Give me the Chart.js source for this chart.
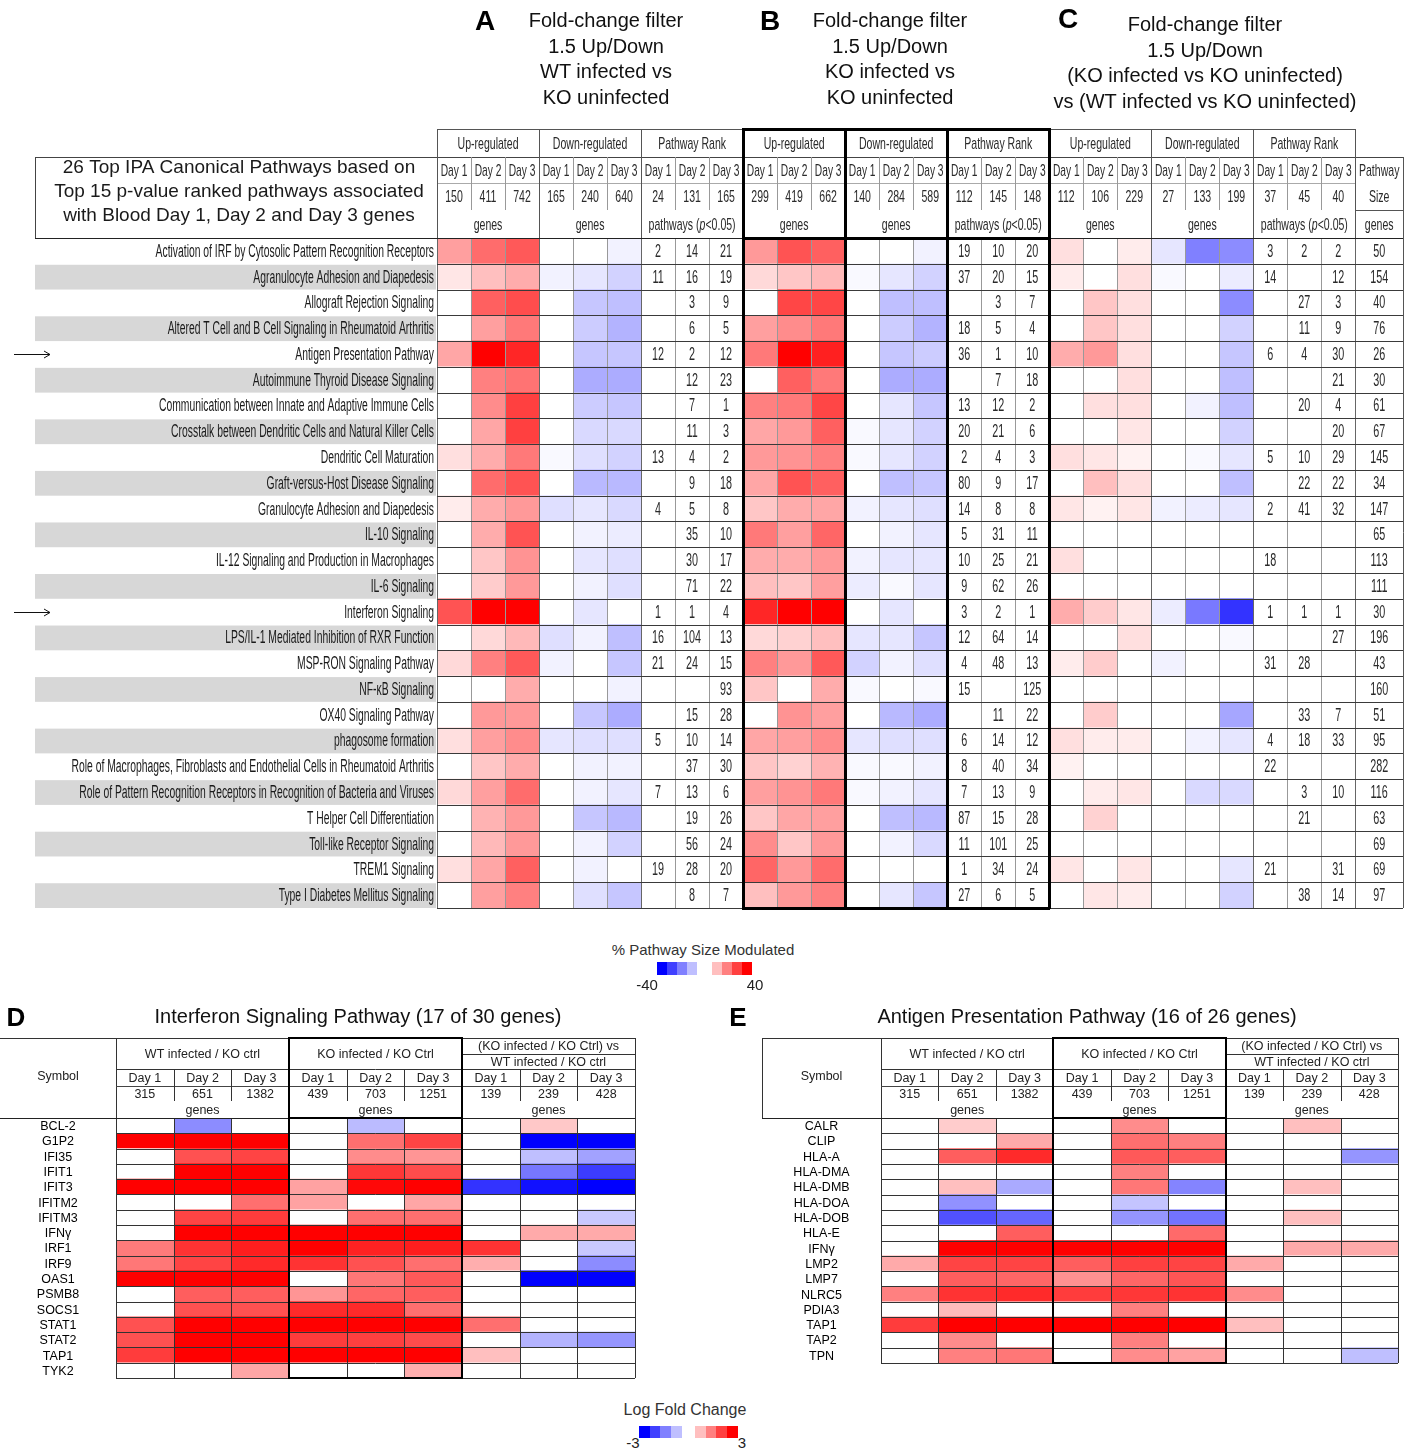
<!DOCTYPE html>
<html><head><meta charset="utf-8">
<script src="https://cdn.jsdelivr.net/npm/chart.js@4.4.1/dist/chart.umd.min.js"></script>
<style>
html,body{margin:0;padding:0;background:#fff;}
#page{position:relative;width:1414px;height:1449px;overflow:hidden;font-family:"Liberation Sans",Arial,sans-serif;color:#111;}
.t{position:absolute;white-space:nowrap;text-align:center;}
.sw{position:absolute;}
canvas{position:absolute;}
</style></head><body><div id="page">
<canvas id="ipa" width="1414" height="915" style="left:0;top:0"></canvas>
<canvas id="ifn" width="645" height="385" style="left:0;top:1000px"></canvas>
<canvas id="apc" width="674" height="375" style="left:740px;top:1000px"></canvas>
</div>
<script>
// ---------- Canonical pathways (panels A, B, C) ----------
const pathways = [
  "Activation of IRF by Cytosolic Pattern Recognition Receptors",
  "Agranulocyte Adhesion and Diapedesis",
  "Allograft Rejection Signaling",
  "Altered T Cell and B Cell Signaling in Rheumatoid Arthritis",
  "Antigen Presentation Pathway",
  "Autoimmune Thyroid Disease Signaling",
  "Communication between Innate and Adaptive Immune Cells",
  "Crosstalk between Dendritic Cells and Natural Killer Cells",
  "Dendritic Cell Maturation",
  "Graft-versus-Host Disease Signaling",
  "Granulocyte Adhesion and Diapedesis",
  "IL-10 Signaling",
  "IL-12 Signaling and Production in Macrophages",
  "IL-6 Signaling",
  "Interferon Signaling",
  "LPS/IL-1 Mediated Inhibition of RXR Function",
  "MSP-RON Signaling Pathway",
  "NF-\u03baB Signaling",
  "OX40 Signaling Pathway",
  "phagosome formation",
  "Role of Macrophages, Fibroblasts and Endothelial Cells in Rheumatoid Arthritis",
  "Role of Pattern Recognition Receptors in Recognition of Bacteria and Viruses",
  "T Helper Cell Differentiation",
  "Toll-like Receptor Signaling",
  "TREM1 Signaling",
  "Type I Diabetes Mellitus Signaling"
];
const markedPathways = ["Antigen Presentation Pathway", "Interferon Signaling"];
const dayLabels = ["Day 1", "Day 2", "Day 3"];

// % of pathway size modulated, Day 1..3 (down-regulated stored as negatives)
const aUp = [[15,23,26],[4,10,13],[0,25,28],[0,15,21],[14,40,34],[0,20,22],[0,18,30],[0,14,30],[5,13,21],[0,23,27],[3,13,16],[0,13,27],[0,9,17],[0,8,16],[27,40,40],[0,6,11],[6,20,26],[0,0,13],[0,16,16],[5,15,18],[0,9,13],[6,15,23],[0,12,16],[0,11,16],[5,14,25],[0,15,20]];
const aDown = [[0,0,-2],[-2,-4,-7],[0,-9,-10],[0,-8,-12],[0,-9,-9],[0,-13,-13],[0,-8,-9],[0,-6,-6],[-1,-5,-7],[0,-11,-11],[-5,-4,-6],[0,-2,-3],[0,-4,-5],[0,-2,-5],[0,-4,0],[-5,-2,-10],[-2,0,-9],[0,0,-2],[0,-9,-13],[-4,-5,-5],[0,-2,-2],[0,-2,-4],[0,-9,-11],[0,-2,-7],[0,-2,0],[0,-5,-9]];
const aRank = [[2,14,21],[11,16,19],[null,3,9],[null,6,5],[12,2,12],[null,12,23],[null,7,1],[null,11,3],[13,4,2],[null,9,18],[4,5,8],[null,35,10],[null,30,17],[null,71,22],[1,1,4],[16,104,13],[21,24,15],[null,null,93],[null,15,28],[5,10,14],[null,37,30],[7,13,6],[null,19,26],[null,56,24],[19,28,20],[null,8,7]];

const bUp = [[16,27,25],[6,9,11],[0,29,29],[15,18,21],[21,40,35],[0,25,21],[20,21,29],[14,16,25],[16,17,20],[14,27,25],[9,13,14],[21,15,24],[13,13,16],[10,9,15],[34,40,40],[6,7,10],[20,16,26],[9,0,13],[0,17,15],[14,15,18],[9,7,12],[15,17,21],[9,14,15],[18,9,16],[24,16,23],[10,16,20]];
const bDown = [[0,0,-2],[-1,-4,-7],[0,-10,-10],[0,-8,-12],[0,-9,-8],[0,-13,-13],[0,-4,-9],[-1,-4,-7],[-1,-4,-7],[0,-10,-9],[-2,-4,-5],[0,-2,-4],[-2,-4,-4],[-3,-1,-4],[0,-4,0],[-4,-4,-9],[-7,-2,-5],[-1,0,-1],[0,-11,-13],[-4,-5,-5],[-1,-1,-2],[-1,-2,-4],[0,-10,-11],[0,-2,-6],[0,0,0],[0,-4,-9]];
const bRank = [[19,10,20],[37,20,15],[null,3,7],[18,5,4],[36,1,10],[null,7,18],[13,12,2],[20,21,6],[2,4,3],[80,9,17],[14,8,8],[5,31,11],[10,25,21],[9,62,26],[3,2,1],[12,64,14],[4,48,13],[15,null,125],[null,11,22],[6,14,12],[8,40,34],[7,13,9],[87,15,28],[11,101,25],[1,34,24],[27,6,5]];

const cUp = [[5,0,3],[3,0,5],[0,9,5],[0,9,5],[13,16,5],[0,0,5],[0,5,5],[0,0,4],[5,4,2],[0,10,5],[4,2,4],[0,0,0],[5,0,0],[0,0,0],[13,8,4],[0,0,5],[3,8,0],[0,0,0],[0,8,0],[5,3,3],[2,0,0],[0,3,4],[0,7,0],[0,0,0],[4,0,4],[0,4,3]];
const cDown = [[-4,-20,-18],[-1,0,-3],[0,0,-18],[0,0,-7],[0,0,-9],[0,0,-10],[0,-2,-10],[0,0,-7],[0,-1,-4],[0,0,-10],[-2,-3,-4],[0,0,0],[0,0,0],[0,0,0],[-3,-21,-32],[0,0,-1],[-2,0,0],[0,0,0],[0,0,-14],[0,-2,-4],[0,0,0],[0,-6,-6],[0,0,0],[0,0,0],[0,0,-4],[0,0,-7]];
const cRank = [[3,2,2],[14,null,12],[null,27,3],[null,11,9],[6,4,30],[null,null,21],[null,20,4],[null,null,20],[5,10,29],[null,22,22],[2,41,32],[null,null,null],[18,null,null],[null,null,null],[1,1,1],[null,null,27],[31,28,null],[null,null,null],[null,33,7],[4,18,33],[22,null,null],[null,3,10],[null,21,null],[null,null,null],[21,null,31],[null,38,14]];

const pathwaySize = [50,154,40,76,26,30,61,67,145,34,147,65,113,111,30,196,43,160,51,95,282,116,63,69,69,97];

// genes / pathways counted per column: [up, down, rank]
const countsA = [[150,411,742],[165,240,640],[24,131,165]];
const countsB = [[299,419,662],[140,284,589],[112,145,148]];
const countsC = [[112,106,229],[27,133,199],[37,45,40]];
const groupNames = ["Up-regulated", "Down-regulated", "Pathway Rank"];

// ---------- Gene-level panels (D, E): log fold change ----------
const ifnGenes = ["BCL-2","G1P2","IFI35","IFIT1","IFIT3","IFITM2","IFITM3","IFN\u03b3","IRF1","IRF9","OAS1","PSMB8","SOCS1","STAT1","STAT2","TAP1","TYK2"];
const ifnWT = [[0,-1.35,0],[3,3,3],[0,2.05,2.2],[0,3,3],[3,3,3],[0,0,1.7],[0,2.2,2.3],[0,3,3],[1.55,2.4,2.65],[1.6,2.2,2.5],[3,3,3],[0,1.9,1.9],[0,2.05,2.05],[2.05,3,3],[2.05,3,3],[2.3,3,3],[0,0,1.05]];
const ifnKO = [[0,-0.8,0],[0,1.7,2.2],[0,1.35,1.25],[0,2.35,2.1],[1.1,2.9,3],[1.1,0,1.05],[0,1.7,1.7],[3,3,3],[3,2.6,2.65],[2.4,2.05,1.7],[0,1.6,1.95],[1.25,1.8,1.9],[2.5,2.5,1.7],[3,3,3],[2.3,2.25,2.1],[3,3,3],[0,0,0.95]];
const ifnCmp = [[0,0.65,0],[0,-3,-3],[0,-0.75,-1.1],[0,-1.6,-2.3],[-2.4,-2.8,-3],[0,0,0],[0,0,-0.65],[0,1,1],[2.4,0,-0.65],[0.95,0,-1.35],[0,-3,-3],[0,0,0],[0,0,0],[1.7,0,0],[0,-0.9,-1.25],[0.75,0,0],[0,0,0]];

const apcGenes = ["CALR","CLIP","HLA-A","HLA-DMA","HLA-DMB","HLA-DOA","HLA-DOB","HLA-E","IFN\u03b3","LMP2","LMP7","NLRC5","PDIA3","TAP1","TAP2","TPN"];
const apcWT = [[0,0.6,0],[0,0,1],[0,1.9,2.5],[0,0,0],[0,0.75,-1],[0,-1.3,0],[0,-2.05,-1.8],[0,0,1.9],[0,3,3],[1,2.2,2.2],[0,1.9,1.8],[1.5,2.4,2.5],[0,0.8,0],[2.3,3,3],[0,1.35,0],[0,1.5,1.6]];
const apcKO = [[0,1.35,0],[0,1.7,1.5],[0,1.95,1.9],[0,1.5,0],[0,1.6,-1.45],[0,-0.7,0],[0,-1.25,-1.65],[0,0,1.75],[3,3,3],[1.9,2.25,2.2],[1.3,1.8,2.0],[2.3,2.35,2.4],[0,1.5,0],[3,3,3],[0,1.5,0],[0,1.35,1.1]];
const apcCmp = [[0,0.75,0],[0,0,0],[0,0,-1.25],[0,0,0],[0,0.75,0],[0,0,0],[0,0.75,0],[0,0,0],[0,1,1],[1,0,0],[0,0,0],[1.35,0,0],[0,0,0],[0.75,0,0],[0,0,0],[0,0,-0.75]];

const geneCounts = [[315,651,1382],[439,703,1251],[139,239,428]];
const geneGroups = ["WT infected / KO ctrl", "KO infected / KO Ctrl", ["(KO infected / KO Ctrl) vs", "WT infected / KO ctrl"]];

const pctLegendSteps = [-40,-30,-20,-10,10,20,30,40];
const lfcLegendSteps = [-3,-2.25,-1.5,-0.75,0.75,1.5,2.25,3];

// ---------- helpers ----------
const FONT = '"Liberation Sans", Arial, sans-serif';
function heat(v, max) {
  const t = Math.min(Math.abs(v) / max, 1);
  const c = Math.round(255 * (1 - t));
  return v >= 0 ? `rgb(255,${c},${c})` : `rgb(${c},${c},255)`;
}
// horizontally condensed text
function ntext(ctx, s, x, y, size, sx, align, color, style) {
  ctx.save();
  ctx.font = (style || '') + ' ' + size + 'px ' + FONT;
  ctx.fillStyle = color || '#2a2a2a';
  ctx.textBaseline = 'middle';
  ctx.textAlign = 'left';
  const w = ctx.measureText(s).width * sx;
  const left = align === 'right' ? x - w : align === 'left' ? x : x - w / 2;
  ctx.translate(left, y);
  ctx.scale(sx, 1);
  ctx.fillText(s, 0, 0);
  ctx.restore();
  return w;
}
function runs(ctx, parts, cx, y, size, sx, color) {
  ctx.save();
  let total = 0;
  parts.forEach(p => { ctx.font = (p.st || '') + ' ' + size + 'px ' + FONT; p.w = ctx.measureText(p.t).width * sx; total += p.w; });
  ctx.restore();
  let x = cx - total / 2;
  parts.forEach(p => { ntext(ctx, p.t, x, y, size, sx, 'left', color, p.st); x += p.w; });
}
function crisp(v, w) { return w % 2 ? Math.round(v) + 0.5 : Math.round(v); }
function hline(ctx, x0, x1, y, w, c) {
  ctx.save(); ctx.strokeStyle = c; ctx.lineWidth = w; ctx.beginPath();
  const yy = crisp(y, w); ctx.moveTo(Math.round(x0), yy); ctx.lineTo(Math.round(x1), yy); ctx.stroke(); ctx.restore();
}
function vline(ctx, x, y0, y1, w, c) {
  ctx.save(); ctx.strokeStyle = c; ctx.lineWidth = w; ctx.beginPath();
  const xx = crisp(x, w); ctx.moveTo(xx, Math.round(y0)); ctx.lineTo(xx, Math.round(y1)); ctx.stroke(); ctx.restore();
}
const page = document.getElementById('page');
function put(text, cx, cy, size, weight, color) {
  const d = document.createElement('div');
  d.className = 't';
  d.textContent = text;
  d.style.cssText = `left:${cx - 400}px;width:800px;top:${cy - size}px;height:${size * 2}px;line-height:${size * 2}px;font-size:${size}px;font-weight:${weight || 400};color:${color || '#111'}`;
  page.appendChild(d);
}

Chart.defaults.font.family = FONT;

// ---------- Panels A-C heatmap ----------
const panels = [
  { up: aUp, down: aDown, rank: aRank, counts: countsA },
  { up: bUp, down: bDown, rank: bRank, counts: countsB },
  { up: cUp, down: cDown, rank: cRank, counts: countsC }
];
const SIZE_END = 28.4; // 27 day columns + wider pathway-size column

const ipaDatasets = [];
panels.forEach((p, pi) => {
  [p.up, p.down].forEach((vals, gi) => {
    for (let d = 0; d < 3; d++) {
      const col = pi * 9 + gi * 3 + d;
      ipaDatasets.push({
        data: vals.map(() => [col, col + 1]),
        backgroundColor: vals.map(r => heat(r[d], 40)),
        borderWidth: 0, barPercentage: 1, categoryPercentage: 1, grouped: false
      });
    }
  });
});

const ipaTable = {
  id: 'ipaTable',
  beforeDatasetsDraw(chart) {
    const { ctx, chartArea: a, scales: { y } } = chart;
    const band = y.getPixelForValue(1) - y.getPixelForValue(0);
    pathways.forEach((name, i) => {
      const cy = y.getPixelForValue(i);
      if (i % 2 === 1) { ctx.fillStyle = '#d7d7d7'; ctx.fillRect(35, cy - band / 2 + 1, a.left - 36, band - 1); }
      ntext(ctx, name, a.left - 3, cy + 1, 18, 0.575, 'right', '#1a1a1a');
      if (markedPathways.includes(name)) {
        ctx.save(); ctx.strokeStyle = '#111'; ctx.lineWidth = 1; ctx.beginPath();
        const yy = Math.round(cy) + 0.5;
        ctx.moveTo(14, yy); ctx.lineTo(50, yy);
        ctx.moveTo(44, yy - 3.5); ctx.lineTo(50, yy); ctx.lineTo(44, yy + 3.5);
        ctx.stroke(); ctx.restore();
      }
    });
  },
  afterDatasetsDraw(chart) {
    const { ctx, chartArea: a, scales: { x, y } } = chart;
    const X = c => x.getPixelForValue(c);
    const band = y.getPixelForValue(1) - y.getPixelForValue(0);
    const top = a.top, bot = a.bottom;
    const r0 = top - 109, r1 = top - 81, r2 = top - 55, r3 = top - 28;

    // cell grid
    for (let c = 0; c <= 27; c++) vline(ctx, X(c), top, bot, 1, c % 3 === 0 ? '#666' : '#999');
    vline(ctx, X(SIZE_END), r1, bot, 1, '#555');
    for (let i = 0; i <= pathways.length; i++) {
      const yy = y.getPixelForValue(0) - band / 2 + i * band;
      hline(ctx, X(0), X(SIZE_END), yy, 1, '#3a3a3a');
    }

    // rank numbers and pathway sizes
    panels.forEach((p, pi) => p.rank.forEach((r, i) => r.forEach((v, d) => {
      if (v != null) ntext(ctx, String(v), X(pi * 9 + 6 + d + 0.5), y.getPixelForValue(i) + 1, 18, 0.6, 'center', '#2a2a2a');
    })));
    pathwaySize.forEach((v, i) => ntext(ctx, String(v), X((27 + SIZE_END) / 2), y.getPixelForValue(i) + 1, 18, 0.6, 'center', '#2a2a2a'));

    // header frame
    hline(ctx, X(0), X(27), r0, 1, '#555');
    hline(ctx, 35, X(SIZE_END), r1, 1, '#444');
    hline(ctx, X(0), X(27), r2, 1, '#aaa');
    hline(ctx, X(27), X(SIZE_END), r3, 1, '#555');
    hline(ctx, 35, X(SIZE_END), top, 1, '#222');
    for (let c = 0; c <= 27; c += 3) vline(ctx, X(c), r0, top, 1, '#555');
    for (let c = 0; c < 27; c++) if (c % 3) vline(ctx, X(c), r1, r3, 1, '#999');
    vline(ctx, 35, r1, top, 1, '#444');

    // header text
    panels.forEach((p, pi) => {
      for (let g = 0; g < 3; g++) {
        const c0 = pi * 9 + g * 3;
        ntext(ctx, groupNames[g], X(c0 + 1.5), (r0 + r1) / 2 + 1, 17, 0.62, 'center');
        for (let d = 0; d < 3; d++) {
          ntext(ctx, dayLabels[d], X(c0 + d + 0.5), (r1 + r2) / 2 + 1, 17, 0.6, 'center');
          ntext(ctx, String(p.counts[g][d]), X(c0 + d + 0.5), (r2 + r3) / 2 + 1, 17, 0.62, 'center');
        }
        if (g < 2) ntext(ctx, 'genes', X(c0 + 1.5), (r3 + top) / 2 + 1, 17, 0.62, 'center');
        else runs(ctx, [{ t: 'pathways (' }, { t: 'p', st: 'italic' }, { t: '<0.05)' }], X(c0 + 1.5), (r3 + top) / 2 + 1, 17, 0.62);
      }
    });
    const sc = X((27 + SIZE_END) / 2);
    ntext(ctx, 'Pathway', sc, (r1 + r2) / 2 + 1, 17, 0.62, 'center');
    ntext(ctx, 'Size', sc, (r2 + r3) / 2 + 1, 17, 0.62, 'center');
    ntext(ctx, 'genes', sc, (r3 + top) / 2 + 1, 17, 0.62, 'center');

    // caption box at the left of the header
    ctx.save();
    ctx.font = '19px ' + FONT; ctx.fillStyle = '#1a1a1a'; ctx.textAlign = 'center'; ctx.textBaseline = 'middle';
    const bx = (35 + X(0)) / 2 + 3;
    ctx.fillText('26 Top IPA Canonical Pathways based on', bx, r1 + 11);
    ctx.fillText('Top 15 p-value ranked pathways associated', bx, r1 + 35);
    ctx.fillText('with Blood Day 1, Day 2 and Day 3 genes', bx, r1 + 59);
    ctx.restore();

    // bold frame around panel B
    [9, 12, 15, 18].forEach(c => vline(ctx, X(c), r0 - 1, bot + 1, 3, '#000'));
    [r0, top, bot].forEach(yy => hline(ctx, X(9) - 1, X(18) + 1, yy, 3, '#000'));
  }
};

new Chart(document.getElementById('ipa'), {
  type: 'bar',
  data: { labels: pathways, datasets: ipaDatasets },
  options: {
    indexAxis: 'y', responsive: false, animation: false, events: [], devicePixelRatio: 1,
    layout: { padding: { left: 437, right: 11, top: 238, bottom: 7 } },
    scales: {
      x: { type: 'linear', min: 0, max: SIZE_END, display: false },
      y: { type: 'category', display: false, offset: true }
    },
    plugins: { legend: { display: false }, tooltip: { enabled: false } }
  },
  plugins: [ipaTable]
});

// ---------- Panels D and E ----------
function geneChart(id, genes, wt, ko, cmp, symLeft, padding) {
  const datasets = [];
  [wt, ko, cmp].forEach((vals, gi) => {
    for (let d = 0; d < 3; d++) {
      const col = gi * 3 + d;
      datasets.push({
        data: genes.map(() => [col, col + 1]),
        backgroundColor: vals.map(r => heat(r[d], 3)),
        borderWidth: 0, barPercentage: 1, categoryPercentage: 1, grouped: false
      });
    }
  });
  const table = {
    id: 'geneTable',
    afterDatasetsDraw(chart) {
      const { ctx, chartArea: a, scales: { x, y } } = chart;
      const X = c => x.getPixelForValue(c);
      const band = y.getPixelForValue(1) - y.getPixelForValue(0);
      const top = a.top, bot = a.bottom;
      const h0 = top - 80, hm = top - 64, h1 = top - 49, h2 = top - 32, h3 = top - 17;
      const F = '12.5px ' + FONT;

      // cell grid
      for (let i = 0; i <= genes.length; i++) hline(ctx, X(0), X(9), y.getPixelForValue(0) - band / 2 + i * band, 1, '#333');
      for (let c = 0; c <= 9; c++) vline(ctx, X(c), c % 3 ? top : h0, bot, 1, '#333');

      // header frame
      hline(ctx, symLeft, X(9), h0, 1, '#333');
      hline(ctx, X(0), X(9), h1, 1, '#333');
      hline(ctx, X(6), X(9), hm, 1, '#333');
      hline(ctx, X(0), X(9), h2, 1, '#444');
      hline(ctx, symLeft, X(9), top, 1, '#222');
      for (let c = 0; c < 9; c++) if (c % 3) vline(ctx, X(c), h1, h3, 1, '#333');
      if (symLeft > 0) vline(ctx, symLeft, h0, top, 1, '#333');

      ctx.save();
      ctx.font = F; ctx.fillStyle = '#222'; ctx.textAlign = 'center'; ctx.textBaseline = 'middle';
      ctx.fillText('Symbol', (symLeft + a.left) / 2, (h0 + top) / 2 - 1);
      geneGroups.forEach((g, gi) => {
        const gc = X(gi * 3 + 1.5);
        if (Array.isArray(g)) { ctx.fillText(g[0], gc, (h0 + hm) / 2 + 1); ctx.fillText(g[1], gc, (hm + h1) / 2 + 1); }
        else ctx.fillText(g, gc, (h0 + h1) / 2 + 1);
        for (let d = 0; d < 3; d++) {
          ctx.fillText(dayLabels[d], X(gi * 3 + d + 0.5), (h1 + h2) / 2 + 1);
          ctx.fillText(String(geneCounts[gi][d]), X(gi * 3 + d + 0.5), (h2 + h3) / 2 + 1);
        }
        ctx.fillText('genes', gc, (h3 + top) / 2 + 1);
      });
      ctx.fillStyle = '#000';
      genes.forEach((g, i) => ctx.fillText(g, (symLeft + a.left) / 2, y.getPixelForValue(i) + 1));
      ctx.restore();

      // bold frame around the KO column group
      [3, 6].forEach(c => vline(ctx, X(c), h0 - 1, bot + 1, 2, '#000'));
      [h0, top, bot].forEach(yy => hline(ctx, X(3) - 1, X(6) + 1, yy, 2, '#000'));
    }
  };
  return new Chart(document.getElementById(id), {
    type: 'bar',
    data: { labels: genes, datasets },
    options: {
      indexAxis: 'y', responsive: false, animation: false, events: [], devicePixelRatio: 1,
      layout: { padding },
      scales: {
        x: { type: 'linear', min: 0, max: 9, display: false },
        y: { type: 'category', display: false, offset: true }
      },
      plugins: { legend: { display: false }, tooltip: { enabled: false } }
    },
    plugins: [table]
  });
}
geneChart('ifn', ifnGenes, ifnWT, ifnKO, ifnCmp, 0, { left: 116, right: 10, top: 118, bottom: 7 });
geneChart('apc', apcGenes, apcWT, apcKO, apcCmp, 22, { left: 141, right: 16, top: 118, bottom: 12 });

// ---------- titles ----------
put('A', 485, 21, 28, 700, '#000');
put('B', 770, 21, 28, 700, '#000');
put('C', 1068, 19, 28, 700, '#000');
['Fold-change filter', '1.5 Up/Down', 'WT infected vs', 'KO uninfected'].forEach((s, i) => put(s, 606, 20 + i * 25.7, 20));
['Fold-change filter', '1.5 Up/Down', 'KO infected vs', 'KO uninfected'].forEach((s, i) => put(s, 890, 20 + i * 25.7, 20));
['Fold-change filter', '1.5 Up/Down', '(KO infected vs KO uninfected)', 'vs (WT infected vs KO uninfected)'].forEach((s, i) => put(s, 1205, 24 + i * 25.7, 20));
put('D', 16, 1017, 26, 700, '#000');
put('E', 738, 1017, 26, 700, '#000');
put('Interferon Signaling Pathway (17 of 30 genes)', 358, 1016, 20);
put('Antigen Presentation Pathway (16 of 26 genes)', 1087, 1016, 20);

// ---------- colour keys ----------
function swatches(steps, max, xBlue, xRed, w, yTop, h) {
  steps.forEach((v, i) => {
    const d = document.createElement('div');
    d.className = 'sw';
    const left = v < 0 ? xBlue + i * w : xRed + (i - 4) * w;
    d.style.cssText = `left:${left}px;top:${yTop}px;width:${Math.ceil(w)}px;height:${h}px;background:${heat(v, max)}`;
    page.appendChild(d);
  });
}
put('% Pathway Size Modulated', 703, 950, 15, 400, '#333');
swatches(pctLegendSteps, 40, 657, 712, 10, 962, 13);
put('-40', 647, 985, 15, 400, '#222');
put('40', 755, 985, 15, 400, '#222');

put('Log Fold Change', 685, 1410, 16, 400, '#333');
swatches(lfcLegendSteps, 3, 639, 695, 10.5, 1426, 12);
put('-3', 633, 1443, 15, 400, '#222');
put('3', 742, 1443, 15, 400, '#222');
</script></body></html>
